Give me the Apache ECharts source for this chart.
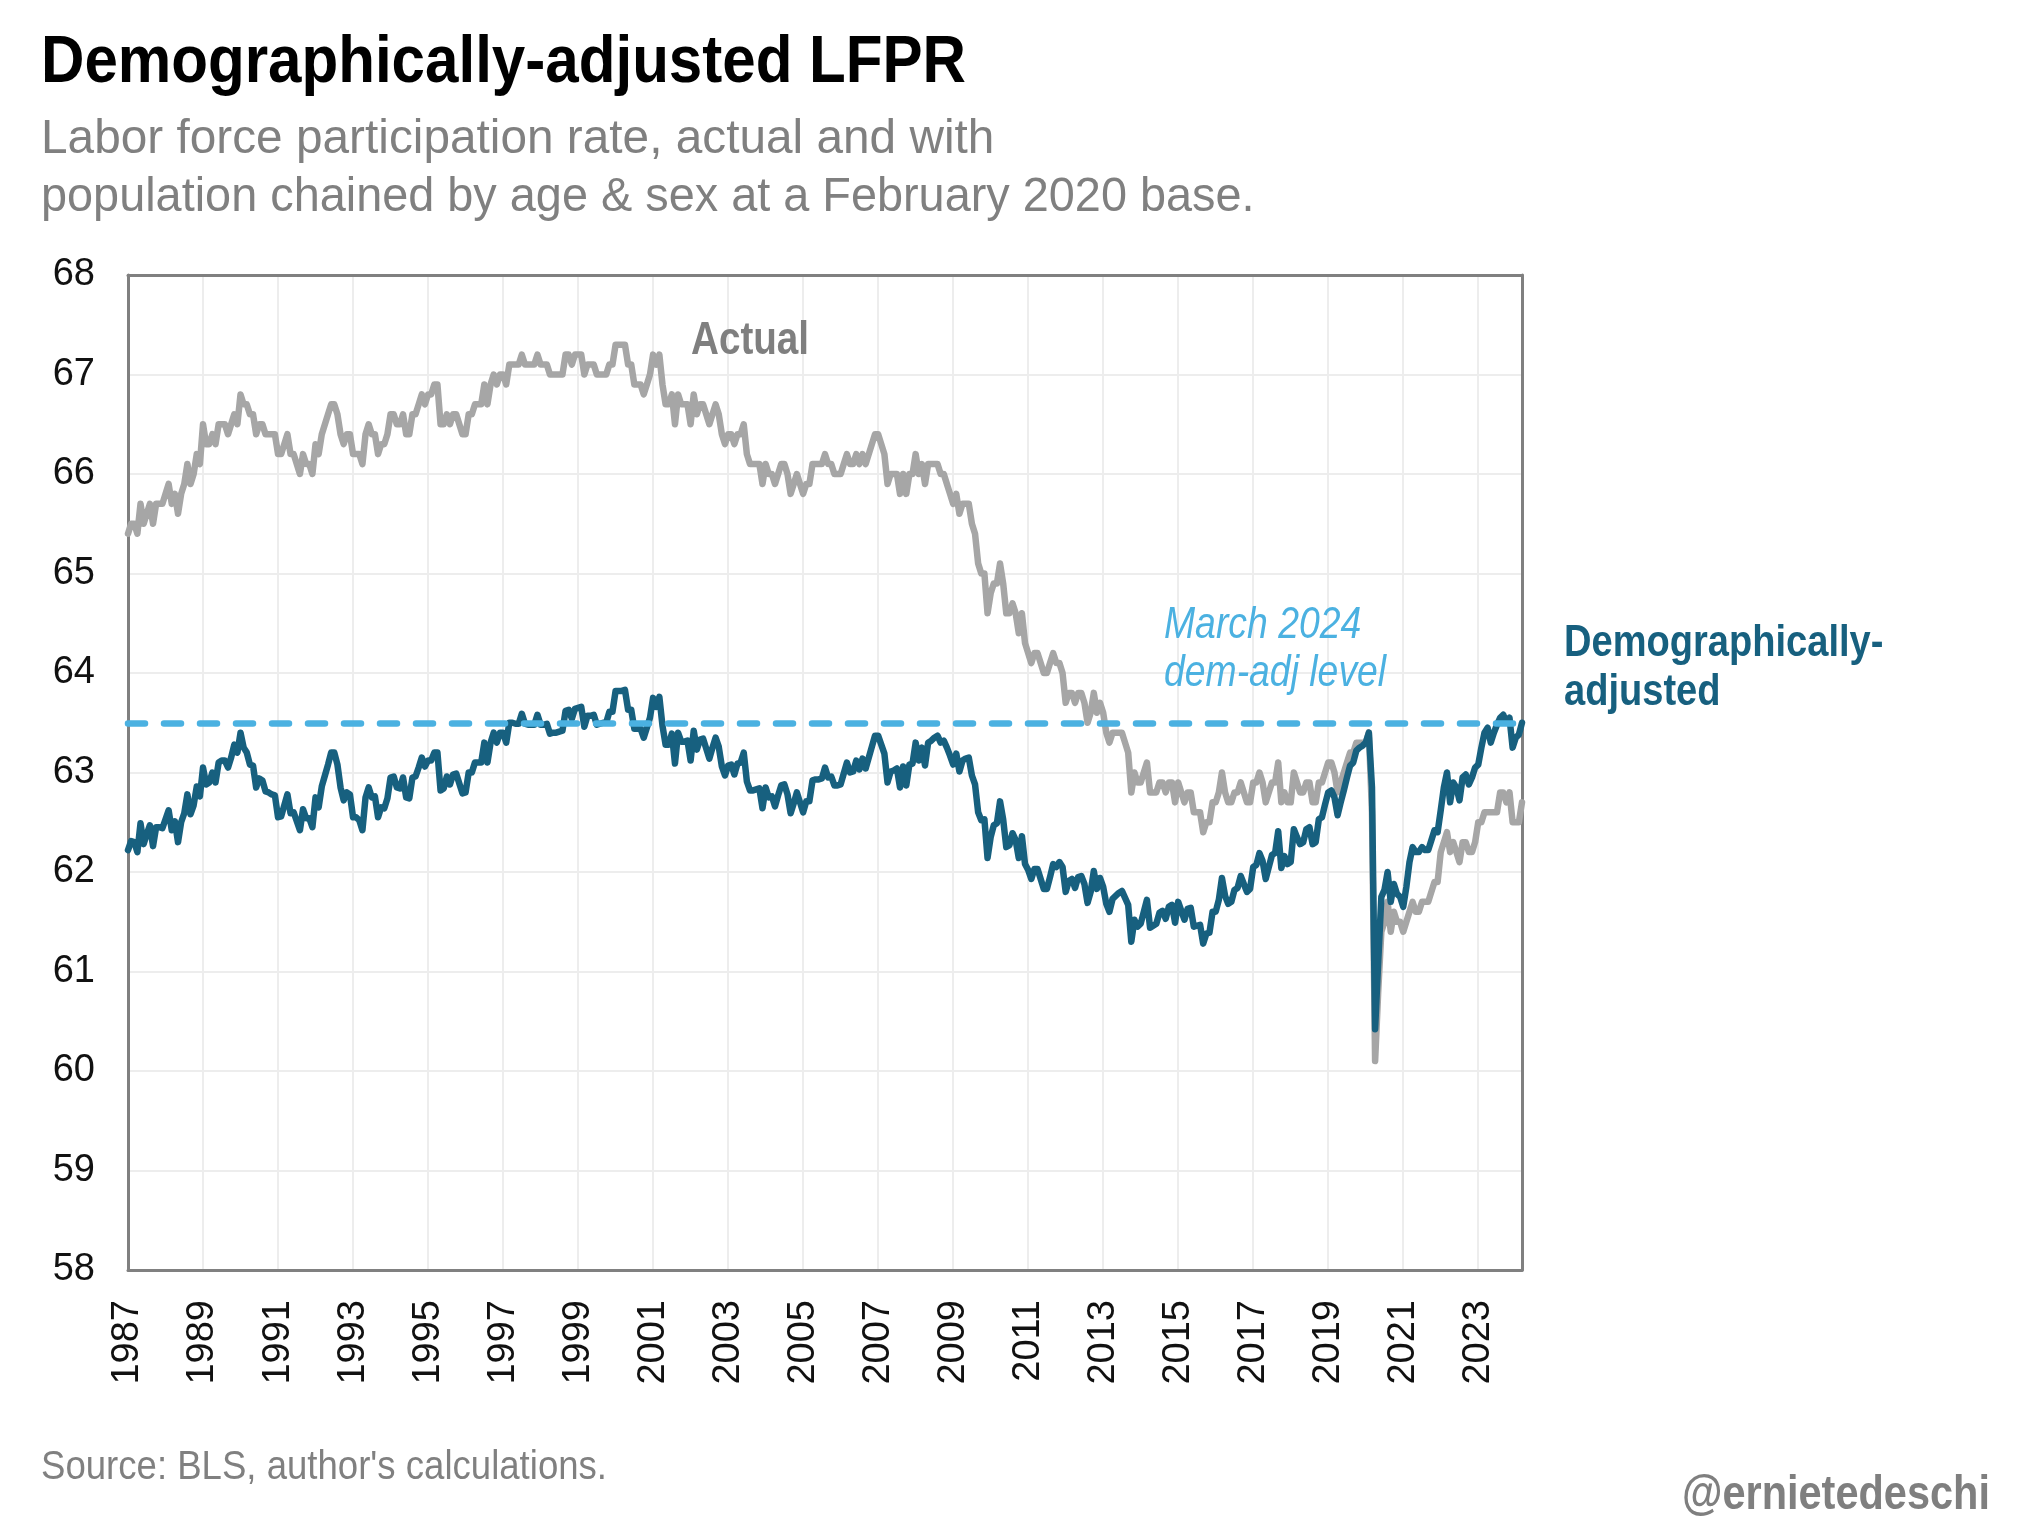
<!DOCTYPE html>
<html>
<head>
<meta charset="utf-8">
<script src="https://cdn.jsdelivr.net/npm/echarts@6/dist/echarts.min.js"></script>
<style>
html,body{margin:0;padding:0;background:#fff;}
#chart{width:2022px;height:1520px;}
</style>
</head>
<body>
<div id="chart"></div>
<script>
// ---- data (monthly, Jan 1987 .. Mar 2024) ----
const startYear = 1987;
const actual = [
65.4,65.5,65.5,65.4,65.7,65.5,65.6,65.7,65.5,65.7,65.7,65.7,
65.8,65.9,65.7,65.8,65.6,65.8,65.9,66.1,65.9,66.0,66.2,66.1,
66.5,66.3,66.3,66.4,66.3,66.5,66.5,66.5,66.4,66.5,66.6,66.5,
66.8,66.7,66.7,66.6,66.6,66.4,66.5,66.5,66.4,66.4,66.4,66.4,
66.2,66.2,66.3,66.4,66.2,66.2,66.1,66.0,66.2,66.1,66.1,66.0,
66.3,66.2,66.4,66.5,66.6,66.7,66.7,66.6,66.4,66.3,66.4,66.4,
66.2,66.2,66.2,66.1,66.4,66.5,66.4,66.4,66.2,66.3,66.3,66.4,
66.6,66.6,66.5,66.5,66.6,66.4,66.4,66.6,66.6,66.7,66.8,66.7,
66.8,66.8,66.9,66.9,66.5,66.5,66.6,66.5,66.6,66.6,66.5,66.4,
66.4,66.6,66.6,66.7,66.7,66.7,66.9,66.7,66.9,67.0,66.9,67.0,
67.0,66.9,67.1,67.1,67.1,67.1,67.2,67.1,67.1,67.1,67.1,67.2,
67.1,67.1,67.1,67.0,67.0,67.0,67.0,67.0,67.2,67.2,67.1,67.2,
67.2,67.2,67.0,67.1,67.1,67.1,67.0,67.0,67.0,67.0,67.1,67.1,
67.3,67.3,67.3,67.3,67.1,67.1,66.9,66.9,66.9,66.8,66.9,67.0,
67.2,67.1,67.2,66.9,66.7,66.7,66.8,66.5,66.8,66.7,66.7,66.7,
66.5,66.8,66.6,66.7,66.7,66.6,66.5,66.6,66.7,66.6,66.4,66.3,
66.4,66.4,66.3,66.4,66.4,66.5,66.2,66.1,66.1,66.1,66.1,65.9,
66.1,66.0,66.0,65.9,66.0,66.1,66.1,66.0,65.8,65.9,66.0,65.9,
65.8,65.9,65.9,66.1,66.1,66.1,66.1,66.2,66.1,66.1,66.0,66.0,
66.0,66.1,66.2,66.1,66.1,66.2,66.1,66.2,66.1,66.2,66.3,66.4,
66.4,66.3,66.2,65.9,66.0,66.0,66.0,65.8,66.0,65.8,66.0,66.0,
66.2,66.0,66.1,65.9,66.1,66.1,66.1,66.1,66.0,66.0,65.9,65.8,
65.7,65.8,65.6,65.7,65.7,65.7,65.5,65.4,65.1,65.0,65.0,64.6,
64.8,64.9,64.9,65.1,64.9,64.6,64.6,64.7,64.6,64.4,64.6,64.3,
64.2,64.1,64.2,64.2,64.1,64.0,64.0,64.1,64.2,64.1,64.1,64.0,
63.7,63.8,63.8,63.7,63.8,63.8,63.7,63.5,63.6,63.8,63.6,63.7,
63.6,63.4,63.3,63.4,63.4,63.4,63.4,63.3,63.2,62.8,63.0,62.9,
62.9,63.0,63.1,62.8,62.8,62.8,62.9,62.9,62.8,62.9,62.9,62.7,
62.9,62.8,62.7,62.8,62.8,62.6,62.6,62.6,62.4,62.5,62.5,62.7,
62.7,62.8,63.0,62.8,62.7,62.7,62.8,62.8,62.9,62.8,62.7,62.7,
62.9,62.9,63.0,62.9,62.7,62.8,62.9,62.9,63.1,62.7,62.8,62.7,
62.7,63.0,62.9,62.8,62.8,62.9,62.9,62.7,62.7,62.9,62.9,63.0,
63.1,63.1,63.0,62.8,62.9,63.0,63.1,63.2,63.2,63.3,63.3,63.3,
63.3,63.4,62.6,60.1,60.8,61.4,61.5,61.7,61.4,61.6,61.5,61.5,
61.4,61.5,61.6,61.7,61.6,61.6,61.7,61.7,61.7,61.8,61.9,61.9,
62.2,62.3,62.4,62.2,62.3,62.2,62.1,62.3,62.3,62.2,62.2,62.3,
62.5,62.5,62.6,62.6,62.6,62.6,62.6,62.8,62.8,62.7,62.8,62.5,
62.5,62.5,62.7
];
const demAdjusted = [
62.22,62.31,62.30,62.20,62.49,62.28,62.38,62.47,62.26,62.45,62.45,62.44,
62.53,62.62,62.42,62.51,62.30,62.50,62.59,62.78,62.58,62.67,62.86,62.76,
63.05,62.88,62.90,63.00,62.90,63.10,63.12,63.12,63.05,63.15,63.28,63.20,
63.40,63.25,63.20,63.08,63.07,62.85,62.94,62.92,62.81,62.80,62.78,62.77,
62.55,62.56,62.67,62.78,62.59,62.60,62.51,62.42,62.63,62.54,62.54,62.45,
62.75,62.65,62.86,62.97,63.08,63.20,63.20,63.08,62.85,62.72,62.80,62.78,
62.55,62.55,62.52,62.42,62.75,62.85,62.75,62.76,62.55,62.65,62.64,62.74,
62.95,62.96,62.85,62.84,62.95,62.75,62.74,62.95,62.96,63.05,63.15,63.06,
63.12,63.12,63.20,63.20,62.82,62.84,62.96,62.88,62.98,62.99,62.89,62.79,
62.80,63.00,63.00,63.10,63.10,63.10,63.30,63.10,63.30,63.40,63.30,63.40,
63.40,63.30,63.50,63.50,63.49,63.49,63.59,63.49,63.48,63.48,63.48,63.58,
63.48,63.48,63.49,63.39,63.40,63.40,63.41,63.42,63.62,63.63,63.54,63.64,
63.65,63.66,63.46,63.57,63.57,63.58,63.48,63.49,63.50,63.50,63.61,63.61,
63.82,63.82,63.82,63.83,63.63,63.63,63.44,63.44,63.44,63.35,63.45,63.55,
63.75,63.66,63.76,63.47,63.28,63.28,63.39,63.09,63.40,63.31,63.31,63.32,
63.12,63.42,63.23,63.33,63.34,63.24,63.14,63.25,63.35,63.26,63.06,62.97,
63.07,63.08,62.98,63.09,63.10,63.20,62.91,62.82,62.82,62.83,62.84,62.64,
62.85,62.75,62.76,62.66,62.77,62.87,62.88,62.78,62.59,62.69,62.80,62.70,
62.60,62.71,62.71,62.92,62.93,62.93,62.94,63.05,62.95,62.96,62.87,62.87,
62.88,62.99,63.10,63.00,63.01,63.12,63.03,63.14,63.04,63.15,63.26,63.37,
63.37,63.28,63.19,62.90,63.01,63.02,63.04,62.85,63.06,62.87,63.08,63.09,
63.30,63.12,63.25,63.07,63.30,63.32,63.35,63.37,63.30,63.32,63.25,63.17,
63.08,63.19,63.01,63.12,63.14,63.15,62.97,62.88,62.60,62.52,62.53,62.14,
62.35,62.47,62.49,62.71,62.53,62.25,62.27,62.39,62.32,62.14,62.36,62.08,
62.02,61.93,62.03,62.03,61.93,61.83,61.83,61.95,62.08,62.05,62.10,62.05,
61.80,61.91,61.93,61.84,61.95,61.96,61.88,61.69,61.80,62.01,61.83,61.94,
61.85,61.68,61.60,61.73,61.76,61.79,61.81,61.74,61.67,61.30,61.52,61.45,
61.48,61.60,61.72,61.44,61.46,61.48,61.59,61.61,61.53,61.65,61.67,61.49,
61.70,61.61,61.52,61.63,61.64,61.45,61.46,61.47,61.28,61.38,61.39,61.60,
61.60,61.72,61.94,61.76,61.68,61.70,61.82,61.84,61.96,61.88,61.80,61.83,
62.05,62.07,62.19,62.11,61.93,62.05,62.17,62.19,62.41,62.04,62.16,62.08,
62.10,62.43,62.35,62.28,62.30,62.43,62.45,62.28,62.30,62.53,62.55,62.68,
62.80,62.82,62.75,62.57,62.70,62.82,62.95,63.07,63.10,63.22,63.25,63.27,
63.30,63.40,62.85,60.42,61.10,61.75,61.82,62.00,61.70,61.88,61.78,61.75,
61.65,61.85,62.10,62.25,62.20,62.20,62.25,62.22,62.22,62.32,62.42,62.40,
62.62,62.85,63.00,62.70,62.90,62.85,62.72,62.95,62.98,62.88,62.95,63.05,
63.08,63.25,63.40,63.45,63.30,63.40,63.48,63.55,63.58,63.50,63.55,63.25,
63.35,63.38,63.50
];
const march2024Level = 63.5;
const yMin = 58, yMax = 68, yStep = 1;
const xStepYears = 2;

// ---- build ----
const toPoints = arr => arr.map((v, i) => [i / 12, v]);
const xMax = (actual.length - 1) / 12;

const SANS = '"Liberation Sans", Arial, sans-serif';

const chart = echarts.init(document.getElementById('chart'), null, {renderer: 'canvas'});

// text helper; sx compresses the glyphs horizontally to mimic a condensed face
const txt = (x, y, text, font, fill, sx, align) => ({
  type: 'text', x: x, y: y, z: 100, scaleX: sx || 1, scaleY: 1,
  style: {text: text, font: font, fill: fill, align: align || 'left', verticalAlign: 'middle'}
});

chart.setOption({
  animation: false,
  backgroundColor: '#ffffff',
  grid: {left: 128, right: 500, top: 275, bottom: 250, show: false, containLabel: false},
  xAxis: [{
    type: 'value', min: 0, max: xMax, interval: xStepYears,
    axisLine: {show: true, onZero: false, lineStyle: {color: '#808080', width: 3}},
    axisTick: {show: false},
    axisLabel: {
      rotate: 90, margin: 30, fontSize: 38, color: '#111', fontFamily: SANS,
      showMaxLabel: false, showMinLabel: true,
      formatter: v => String(startYear + Math.round(v))
    },
    splitLine: {show: true, lineStyle: {color: '#ededed', width: 2}}
  }, {
    type: 'value', position: 'top', min: 0, max: xMax,
    axisLine: {show: true, onZero: false, lineStyle: {color: '#808080', width: 3}},
    axisTick: {show: false}, axisLabel: {show: false}, splitLine: {show: false}
  }],
  yAxis: [{
    type: 'value', min: yMin, max: yMax, interval: yStep,
    axisLine: {show: true, onZero: false, lineStyle: {color: '#808080', width: 3}},
    axisTick: {show: false},
    axisLabel: {margin: 33, fontSize: 38, color: '#111', fontFamily: SANS},
    splitLine: {show: true, lineStyle: {color: '#ededed', width: 2}}
  }, {
    type: 'value', position: 'right', min: yMin, max: yMax,
    axisLine: {show: true, onZero: false, lineStyle: {color: '#808080', width: 3}},
    axisTick: {show: false}, axisLabel: {show: false}, splitLine: {show: false}
  }],
  series: [{
    name: 'Actual', type: 'line', data: toPoints(actual),
    showSymbol: false, symbol: 'none', z: 2,
    lineStyle: {color: '#a6a6a6', width: 6.5, join: 'round', cap: 'round'}
  }, {
    name: 'Demographically-adjusted', type: 'line', data: toPoints(demAdjusted),
    showSymbol: false, symbol: 'none', z: 3,
    lineStyle: {color: '#17607f', width: 6.5, join: 'round', cap: 'round'}
  }, {
    name: 'March 2024 level', type: 'line', data: [], z: 5,
    markLine: {
      silent: true, symbol: ['none', 'none'], label: {show: false},
      lineStyle: {color: '#4bb1e1', width: 6.5, type: [17, 19], cap: 'round', opacity: 1},
      data: [{yAxis: march2024Level}]
    }
  }],
  graphic: [
    txt(41, 64, 'Demographically-adjusted LFPR', 'bold 67px ' + SANS, '#000000', 0.897),
    txt(41, 139, 'Labor force participation rate, actual and with', '49px ' + SANS, '#808080', 0.975),
    txt(41, 197, 'population chained by age & sex at a February 2020 base.', '49px ' + SANS, '#808080', 0.956),
    txt(691, 341, 'Actual', 'bold 46px ' + SANS, '#7f7f7f', 0.84),
    txt(1164, 625, 'March 2024', 'italic 45px ' + SANS, '#4bb1e1', 0.83),
    txt(1164, 673, 'dem-adj level', 'italic 45px ' + SANS, '#4bb1e1', 0.83),
    txt(1564, 644, 'Demographically-', 'bold 45px ' + SANS, '#17607f', 0.846),
    txt(1564, 693, 'adjusted', 'bold 45px ' + SANS, '#17607f', 0.846),
    txt(41, 1468, "Source: BLS, author's calculations.", '41px ' + SANS, '#808080', 0.892),
    txt(1990, 1495, '@ernietedeschi', 'bold 49px ' + SANS, '#7f7f7f', 0.847, 'right')
  ]
});
</script>
</body>
</html>
